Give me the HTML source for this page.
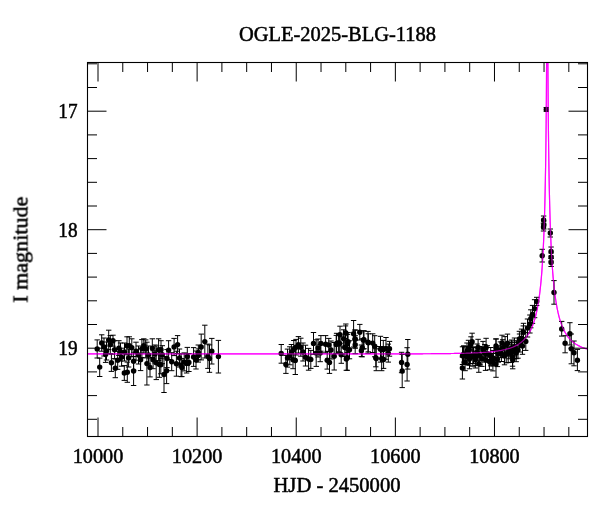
<!DOCTYPE html><html><head><meta charset="utf-8"><style>html,body{margin:0;padding:0;background:#fff;width:600px;height:512px;overflow:hidden}svg{display:block}</style></head><body>
<svg width="600" height="512" viewBox="0 0 600 512">
<rect width="600" height="512" fill="#fff"/>
<defs><clipPath id="c"><rect x="87.5" y="62.5" width="500" height="374"/></clipPath></defs>
<g clip-path="url(#c)"><polyline points="87.50,353.95 88.50,353.95 89.50,353.95 90.50,353.95 91.50,353.95 92.50,353.95 93.50,353.95 94.50,353.95 95.50,353.95 96.50,353.95 97.50,353.95 98.50,353.95 99.50,353.95 100.50,353.95 101.50,353.95 102.50,353.95 103.50,353.95 104.50,353.95 105.50,353.95 106.50,353.95 107.50,353.95 108.50,353.95 109.50,353.95 110.50,353.95 111.50,353.95 112.50,353.95 113.50,353.95 114.50,353.95 115.50,353.95 116.50,353.95 117.50,353.95 118.50,353.95 119.50,353.95 120.50,353.95 121.50,353.95 122.50,353.95 123.50,353.95 124.50,353.95 125.50,353.95 126.50,353.95 127.50,353.95 128.50,353.95 129.50,353.95 130.50,353.95 131.50,353.95 132.50,353.95 133.50,353.95 134.50,353.95 135.50,353.95 136.50,353.95 137.50,353.95 138.50,353.95 139.50,353.95 140.50,353.95 141.50,353.95 142.50,353.95 143.50,353.95 144.50,353.95 145.50,353.95 146.50,353.95 147.50,353.95 148.50,353.95 149.50,353.95 150.50,353.95 151.50,353.95 152.50,353.95 153.50,353.95 154.50,353.95 155.50,353.95 156.50,353.95 157.50,353.94 158.50,353.94 159.50,353.94 160.50,353.94 161.50,353.94 162.50,353.94 163.50,353.94 164.50,353.94 165.50,353.94 166.50,353.94 167.50,353.94 168.50,353.94 169.50,353.94 170.50,353.94 171.50,353.94 172.50,353.94 173.50,353.94 174.50,353.94 175.50,353.94 176.50,353.94 177.50,353.94 178.50,353.94 179.50,353.94 180.50,353.94 181.50,353.94 182.50,353.94 183.50,353.94 184.50,353.94 185.50,353.94 186.50,353.94 187.50,353.94 188.50,353.94 189.50,353.94 190.50,353.94 191.50,353.94 192.50,353.94 193.50,353.94 194.50,353.94 195.50,353.94 196.50,353.94 197.50,353.94 198.50,353.94 199.50,353.94 200.50,353.94 201.50,353.94 202.50,353.94 203.50,353.94 204.50,353.94 205.50,353.94 206.50,353.94 207.50,353.94 208.50,353.94 209.50,353.94 210.50,353.94 211.50,353.94 212.50,353.94 213.50,353.94 214.50,353.94 215.50,353.94 216.50,353.94 217.50,353.94 218.50,353.94 219.50,353.94 220.50,353.94 221.50,353.94 222.50,353.94 223.50,353.94 224.50,353.94 225.50,353.94 226.50,353.94 227.50,353.94 228.50,353.94 229.50,353.94 230.50,353.94 231.50,353.94 232.50,353.94 233.50,353.94 234.50,353.94 235.50,353.94 236.50,353.94 237.50,353.94 238.50,353.94 239.50,353.94 240.50,353.94 241.50,353.94 242.50,353.94 243.50,353.94 244.50,353.94 245.50,353.94 246.50,353.94 247.50,353.94 248.50,353.94 249.50,353.94 250.50,353.94 251.50,353.94 252.50,353.94 253.50,353.94 254.50,353.94 255.50,353.94 256.50,353.94 257.50,353.94 258.50,353.94 259.50,353.94 260.50,353.94 261.50,353.94 262.50,353.94 263.50,353.94 264.50,353.94 265.50,353.94 266.50,353.94 267.50,353.94 268.50,353.94 269.50,353.94 270.50,353.94 271.50,353.94 272.50,353.94 273.50,353.94 274.50,353.94 275.50,353.94 276.50,353.94 277.50,353.94 278.50,353.94 279.50,353.94 280.50,353.94 281.50,353.94 282.50,353.94 283.50,353.94 284.50,353.94 285.50,353.94 286.50,353.94 287.50,353.94 288.50,353.94 289.50,353.94 290.50,353.94 291.50,353.94 292.50,353.94 293.50,353.94 294.50,353.93 295.50,353.93 296.50,353.93 297.50,353.93 298.50,353.93 299.50,353.93 300.50,353.93 301.50,353.93 302.50,353.93 303.50,353.93 304.50,353.93 305.50,353.93 306.50,353.93 307.50,353.93 308.50,353.93 309.50,353.93 310.50,353.93 311.50,353.93 312.50,353.93 313.50,353.93 314.50,353.93 315.50,353.93 316.50,353.93 317.50,353.93 318.50,353.93 319.50,353.93 320.50,353.93 321.50,353.93 322.50,353.93 323.50,353.93 324.50,353.93 325.50,353.93 326.50,353.93 327.50,353.93 328.50,353.93 329.50,353.93 330.50,353.93 331.50,353.92 332.50,353.92 333.50,353.92 334.50,353.92 335.50,353.92 336.50,353.92 337.50,353.92 338.50,353.92 339.50,353.92 340.50,353.92 341.50,353.92 342.50,353.92 343.50,353.92 344.50,353.92 345.50,353.92 346.50,353.92 347.50,353.92 348.50,353.92 349.50,353.92 350.50,353.92 351.50,353.91 352.50,353.91 353.50,353.91 354.50,353.91 355.50,353.91 356.50,353.91 357.50,353.91 358.50,353.91 359.50,353.91 360.50,353.91 361.50,353.91 362.50,353.91 363.50,353.91 364.50,353.90 365.50,353.90 366.50,353.90 367.50,353.90 368.50,353.90 369.50,353.90 370.50,353.90 371.50,353.90 372.50,353.90 373.50,353.90 374.50,353.89 375.50,353.89 376.50,353.89 377.50,353.89 378.50,353.89 379.50,353.89 380.50,353.89 381.50,353.89 382.50,353.88 383.50,353.88 384.50,353.88 385.50,353.88 386.50,353.88 387.50,353.88 388.50,353.88 389.50,353.87 390.50,353.87 391.50,353.87 392.50,353.87 393.50,353.87 394.50,353.86 395.50,353.86 396.50,353.86 397.50,353.86 398.50,353.86 399.50,353.85 400.50,353.85 401.50,353.85 402.50,353.85 403.50,353.84 404.50,353.84 405.50,353.84 406.50,353.84 407.50,353.83 408.50,353.83 409.50,353.83 410.50,353.82 411.50,353.82 412.50,353.82 413.50,353.81 414.50,353.81 415.50,353.81 416.50,353.80 417.50,353.80 418.50,353.79 419.50,353.79 420.50,353.79 421.50,353.78 422.50,353.78 423.50,353.77 424.50,353.77 425.50,353.76 426.50,353.75 427.50,353.75 428.50,353.74 429.50,353.74 430.50,353.73 431.50,353.72 432.50,353.72 433.50,353.71 434.50,353.70 435.50,353.70 436.50,353.69 437.50,353.68 438.50,353.67 439.50,353.66 440.50,353.65 441.50,353.64 442.50,353.63 443.50,353.62 444.50,353.61 445.50,353.60 446.50,353.59 447.50,353.58 448.50,353.56 449.50,353.55 450.50,353.54 451.50,353.52 452.50,353.51 453.50,353.49 454.50,353.47 455.50,353.46 456.50,353.44 457.50,353.42 458.50,353.40 459.50,353.38 460.50,353.36 461.50,353.34 462.50,353.31 463.50,353.29 464.50,353.26 465.50,353.24 466.50,353.21 467.50,353.18 468.50,353.15 469.50,353.12 470.50,353.08 471.50,353.05 472.50,353.01 473.50,352.97 474.50,352.93 475.50,352.89 476.50,352.84 477.50,352.79 478.50,352.74 479.50,352.69 480.50,352.64 481.50,352.58 482.50,352.51 483.50,352.45 484.50,352.38 485.50,352.31 486.50,352.23 487.50,352.15 488.50,352.06 489.50,351.97 490.50,351.88 491.50,351.78 492.50,351.67 493.50,351.56 494.50,351.43 495.50,351.31 496.50,351.17 497.50,351.03 498.50,350.87 499.50,350.71 500.50,350.54 501.50,350.35 502.50,350.15 503.50,349.94 504.50,349.72 505.50,349.48 506.50,349.23 507.50,348.95 508.50,348.66 509.50,348.35 510.50,348.01 511.50,347.65 512.50,347.26 513.50,346.84 514.50,346.39 515.50,345.91 516.50,345.38 517.50,344.82 518.50,344.20 519.50,343.54 520.50,342.82 521.50,342.03 522.50,341.17 523.50,340.23 524.50,339.21 525.50,338.08 526.50,336.84 527.50,335.47 528.50,333.95 529.50,332.26 530.50,330.37 531.50,328.26 532.50,325.87 533.50,323.17 534.50,320.08 535.50,316.54 536.50,312.42 537.50,307.59 538.50,301.86 539.25,296.81 539.30,296.45 539.35,296.08 539.40,295.71 539.45,295.34 539.50,294.96 539.55,294.58 539.60,294.19 539.65,293.80 539.70,293.40 539.75,293.01 539.80,292.60 539.85,292.20 539.90,291.78 539.95,291.37 540.00,290.95 540.05,290.52 540.10,290.09 540.15,289.66 540.20,289.22 540.25,288.78 540.30,288.33 540.35,287.88 540.40,287.42 540.45,286.95 540.50,286.48 540.55,286.01 540.60,285.53 540.65,285.04 540.70,284.55 540.75,284.06 540.80,283.55 540.85,283.04 540.90,282.53 540.95,282.01 541.00,281.48 541.05,280.95 541.10,280.41 541.15,279.86 541.20,279.31 541.25,278.75 541.30,278.18 541.35,277.60 541.40,277.02 541.45,276.43 541.50,275.83 541.55,275.23 541.60,274.62 541.65,274.00 541.70,273.37 541.75,272.73 541.80,272.08 541.85,271.43 541.90,270.76 541.95,270.09 542.00,269.41 542.05,268.72 542.10,268.01 542.15,267.30 542.20,266.58 542.25,265.85 542.30,265.11 542.35,264.35 542.40,263.59 542.45,262.81 542.50,262.02 542.55,261.22 542.60,260.41 542.65,259.58 542.70,258.75 542.75,257.90 542.80,257.03 542.85,256.15 542.90,255.26 542.95,254.36 543.00,253.43 543.05,252.50 543.10,251.54 543.15,250.58 543.20,249.59 543.25,248.59 543.30,247.57 543.35,246.53 543.40,245.47 543.45,244.40 543.50,243.30 543.55,242.19 543.60,241.05 543.65,239.90 543.70,238.72 543.75,237.52 543.80,236.29 543.85,235.04 543.90,233.77 543.95,232.47 544.00,231.14 544.05,229.79 544.10,228.41 544.15,227.00 544.20,225.56 544.25,224.08 544.30,222.58 544.35,221.04 544.40,219.46 544.45,217.85 544.50,216.20 544.55,214.52 544.60,212.79 544.65,211.02 544.70,209.20 544.75,207.34 544.80,205.43 544.85,203.47 544.90,201.46 544.95,199.40 545.00,197.27 545.05,195.09 545.10,192.85 545.15,190.54 545.20,188.16 545.25,185.70 545.30,183.17 545.35,180.56 545.40,177.87 545.45,175.08 545.50,172.20 545.55,169.22 545.60,166.13 545.65,162.93 545.70,159.61 545.75,156.15 545.80,152.56 545.85,148.82 545.90,144.92 545.95,140.85 546.00,136.59 546.05,132.13 546.10,127.45 546.15,122.53 546.20,117.36 546.25,111.89 546.30,106.11 546.35,99.97 546.40,93.45 546.45,86.48 546.50,79.01 546.55,70.98 546.60,62.29 546.65,52.85 546.70,42.51 546.75,31.11 546.80,18.43 546.85,4.15 546.90,-12.15 546.95,-31.10 547.00,-53.66 547.05,-81.47 547.10,-117.58 547.15,-168.83 547.20,-257.10 547.25,-463.43 547.30,-257.10 547.35,-168.83 547.40,-117.58 547.45,-81.47 547.50,-53.66 547.55,-31.10 547.60,-12.15 547.65,4.15 547.70,18.43 547.75,31.11 547.80,42.51 547.85,52.85 547.90,62.29 547.95,70.98 548.00,79.01 548.05,86.48 548.10,93.45 548.15,99.97 548.20,106.11 548.25,111.89 548.30,117.36 548.35,122.53 548.40,127.45 548.45,132.13 548.50,136.59 548.55,140.85 548.60,144.92 548.65,148.82 548.70,152.56 548.75,156.15 548.80,159.61 548.85,162.93 548.90,166.13 548.95,169.22 549.00,172.20 549.05,175.08 549.10,177.87 549.15,180.56 549.20,183.17 549.25,185.70 549.30,188.16 549.35,190.54 549.40,192.85 549.45,195.09 549.50,197.27 549.55,199.40 549.60,201.46 549.65,203.47 549.70,205.43 549.75,207.34 549.80,209.20 549.85,211.02 549.90,212.79 549.95,214.52 550.00,216.20 550.05,217.85 550.10,219.46 550.15,221.04 550.20,222.58 550.25,224.08 550.30,225.56 550.35,227.00 550.40,228.41 550.45,229.79 550.50,231.14 550.55,232.47 550.60,233.77 550.65,235.04 550.70,236.29 550.75,237.52 550.80,238.72 550.85,239.90 550.90,241.05 550.95,242.19 551.00,243.30 551.05,244.40 551.10,245.47 551.15,246.53 551.20,247.57 551.25,248.59 551.30,249.59 551.35,250.58 551.40,251.54 551.45,252.50 551.50,253.43 551.55,254.36 551.60,255.26 551.65,256.15 551.70,257.03 551.75,257.90 551.80,258.75 551.85,259.58 551.90,260.41 551.95,261.22 552.00,262.02 552.05,262.81 552.10,263.59 552.15,264.35 552.20,265.11 552.25,265.85 552.30,266.58 552.35,267.30 552.40,268.01 552.45,268.72 552.50,269.41 552.55,270.09 552.60,270.76 552.65,271.43 552.70,272.08 552.75,272.73 552.80,273.37 552.85,274.00 552.90,274.62 552.95,275.23 553.00,275.83 553.05,276.43 553.10,277.02 553.15,277.60 553.20,278.18 553.25,278.75 553.30,279.31 553.35,279.86 553.40,280.41 553.45,280.95 553.50,281.48 553.55,282.01 553.60,282.53 553.65,283.04 553.70,283.55 553.75,284.06 553.80,284.55 553.85,285.04 553.90,285.53 553.95,286.01 554.00,286.48 554.05,286.95 554.10,287.42 554.15,287.88 554.20,288.33 554.25,288.78 554.30,289.22 554.35,289.66 554.40,290.09 554.45,290.52 554.50,290.95 554.55,291.37 554.60,291.78 554.65,292.20 554.70,292.60 554.75,293.01 554.80,293.40 554.85,293.80 554.90,294.19 554.95,294.58 555.00,294.96 555.05,295.34 555.10,295.71 555.15,296.08 555.20,296.45 555.25,296.81 556.00,301.86 557.00,307.59 558.00,312.42 559.00,316.54 560.00,320.08 561.00,323.17 562.00,325.87 563.00,328.26 564.00,330.37 565.00,332.26 566.00,333.95 567.00,335.47 568.00,336.84 569.00,338.08 570.00,339.21 571.00,340.23 572.00,341.17 573.00,342.03 574.00,342.82 575.00,343.54 576.00,344.20 577.00,344.82 578.00,345.38 579.00,345.91 580.00,346.39 581.00,346.84 582.00,347.26 583.00,347.65 584.00,348.01 585.00,348.35 586.00,348.66 587.00,348.95 588.00,349.23 589.00,349.48 590.00,349.72 591.00,349.94 592.00,350.15 593.00,350.35 594.00,350.54 595.00,350.71 596.00,350.87 597.00,351.03 598.00,351.17 599.00,351.31 600.00,351.43 601.00,351.56 602.00,351.67 603.00,351.78 604.00,351.88 605.00,351.97 606.00,352.06 607.00,352.15 608.00,352.23 609.00,352.31 610.00,352.38 611.00,352.45 612.00,352.51 613.00,352.58 614.00,352.64 615.00,352.69 616.00,352.74 617.00,352.79 618.00,352.84 619.00,352.89 620.00,352.93 621.00,352.97 622.00,353.01 623.00,353.05 624.00,353.08 625.00,353.12 626.00,353.15 627.00,353.18 628.00,353.21 629.00,353.24 630.00,353.26 631.00,353.29 632.00,353.31 633.00,353.34 634.00,353.36 635.00,353.38 636.00,353.40 637.00,353.42 638.00,353.44 639.00,353.46 640.00,353.47 641.00,353.49 642.00,353.51 643.00,353.52 644.00,353.54 645.00,353.55 646.00,353.56 647.00,353.58 648.00,353.59 649.00,353.60 650.00,353.61 651.00,353.62 652.00,353.63 653.00,353.64 654.00,353.65 655.00,353.66 656.00,353.67 657.00,353.68 658.00,353.69 659.00,353.70 660.00,353.70 661.00,353.71 662.00,353.72 663.00,353.72 664.00,353.73 665.00,353.74 666.00,353.74 667.00,353.75 668.00,353.75 669.00,353.76 670.00,353.77 671.00,353.77 672.00,353.78 673.00,353.78 674.00,353.79 675.00,353.79 676.00,353.79 677.00,353.80 678.00,353.80 679.00,353.81 680.00,353.81 681.00,353.81 682.00,353.82 683.00,353.82 684.00,353.82 685.00,353.83 686.00,353.83 687.00,353.83 688.00,353.84 689.00,353.84 690.00,353.84 691.00,353.84 692.00,353.85 693.00,353.85 694.00,353.85 695.00,353.85 696.00,353.86 697.00,353.86 698.00,353.86 699.00,353.86 700.00,353.86 701.00,353.87 702.00,353.87 703.00,353.87 704.00,353.87 705.00,353.87 706.00,353.88 707.00,353.88 708.00,353.88 709.00,353.88 710.00,353.88 711.00,353.88 712.00,353.88 713.00,353.89 714.00,353.89 715.00,353.89 716.00,353.89 717.00,353.89 718.00,353.89 719.00,353.89 720.00,353.89 721.00,353.90 722.00,353.90 723.00,353.90 724.00,353.90 725.00,353.90 726.00,353.90 727.00,353.90 728.00,353.90 729.00,353.90 730.00,353.90 731.00,353.91 732.00,353.91 733.00,353.91 734.00,353.91 735.00,353.91 736.00,353.91 737.00,353.91 738.00,353.91 739.00,353.91 740.00,353.91 741.00,353.91 742.00,353.91 743.00,353.91 744.00,353.92 745.00,353.92 746.00,353.92 747.00,353.92 748.00,353.92 749.00,353.92 750.00,353.92 751.00,353.92 752.00,353.92 753.00,353.92 754.00,353.92 755.00,353.92 756.00,353.92 757.00,353.92 758.00,353.92 759.00,353.92 760.00,353.92 761.00,353.92 762.00,353.92 763.00,353.92 764.00,353.93 765.00,353.93 766.00,353.93 767.00,353.93 768.00,353.93 769.00,353.93 770.00,353.93 771.00,353.93 772.00,353.93 773.00,353.93 774.00,353.93 775.00,353.93 776.00,353.93 777.00,353.93 778.00,353.93 779.00,353.93 780.00,353.93 781.00,353.93 782.00,353.93 783.00,353.93 784.00,353.93 785.00,353.93 786.00,353.93 787.00,353.93 788.00,353.93 789.00,353.93 790.00,353.93 791.00,353.93 792.00,353.93 793.00,353.93 794.00,353.93 795.00,353.93 796.00,353.93 797.00,353.93 798.00,353.93 799.00,353.93 800.00,353.93 801.00,353.94 802.00,353.94 803.00,353.94 804.00,353.94 805.00,353.94 806.00,353.94 807.00,353.94 808.00,353.94 809.00,353.94 810.00,353.94 811.00,353.94 812.00,353.94 813.00,353.94 814.00,353.94 815.00,353.94 816.00,353.94 817.00,353.94 818.00,353.94 819.00,353.94 820.00,353.94 821.00,353.94 822.00,353.94 823.00,353.94 824.00,353.94 825.00,353.94 826.00,353.94 827.00,353.94 828.00,353.94 829.00,353.94 830.00,353.94 831.00,353.94 832.00,353.94 833.00,353.94 834.00,353.94 835.00,353.94 836.00,353.94 837.00,353.94 838.00,353.94 839.00,353.94 840.00,353.94 841.00,353.94 842.00,353.94 843.00,353.94 844.00,353.94 845.00,353.94 846.00,353.94 847.00,353.94 848.00,353.94 849.00,353.94 850.00,353.94 851.00,353.94 852.00,353.94 853.00,353.94 854.00,353.94 855.00,353.94 856.00,353.94 857.00,353.94 858.00,353.94 859.00,353.94 860.00,353.94 861.00,353.94 862.00,353.94 863.00,353.94 864.00,353.94 865.00,353.94 866.00,353.94 867.00,353.94 868.00,353.94 869.00,353.94 870.00,353.94 871.00,353.94 872.00,353.94 873.00,353.94 874.00,353.94 875.00,353.94 876.00,353.94 877.00,353.94 878.00,353.94 879.00,353.94 880.00,353.94 881.00,353.94 882.00,353.94 883.00,353.94 884.00,353.94 885.00,353.94 886.00,353.94 887.00,353.94 888.00,353.94 889.00,353.94 890.00,353.94 891.00,353.94 892.00,353.94 893.00,353.94 894.00,353.94 895.00,353.94 896.00,353.94 897.00,353.94 898.00,353.94 899.00,353.94 900.00,353.94 901.00,353.94 902.00,353.94 903.00,353.94 904.00,353.94 905.00,353.94 906.00,353.94 907.00,353.94 908.00,353.94 909.00,353.94 910.00,353.94 911.00,353.94 912.00,353.94 913.00,353.94 914.00,353.94 915.00,353.94 916.00,353.94 917.00,353.94 918.00,353.94 919.00,353.94 920.00,353.94 921.00,353.94 922.00,353.94 923.00,353.94 924.00,353.94 925.00,353.94 926.00,353.94 927.00,353.94 928.00,353.94 929.00,353.94 930.00,353.94 931.00,353.94 932.00,353.94 933.00,353.94 934.00,353.94 935.00,353.94 936.00,353.94 937.00,353.94 938.00,353.95 939.00,353.95 940.00,353.95 941.00,353.95 942.00,353.95 943.00,353.95 944.00,353.95 945.00,353.95 946.00,353.95 947.00,353.95 948.00,353.95 949.00,353.95 950.00,353.95 951.00,353.95 952.00,353.95 953.00,353.95 954.00,353.95 955.00,353.95 956.00,353.95 957.00,353.95 958.00,353.95 959.00,353.95 960.00,353.95 961.00,353.95 962.00,353.95 963.00,353.95 964.00,353.95 965.00,353.95 966.00,353.95 967.00,353.95 968.00,353.95 969.00,353.95 970.00,353.95 971.00,353.95 972.00,353.95 973.00,353.95 974.00,353.95 975.00,353.95 976.00,353.95 977.00,353.95 978.00,353.95 979.00,353.95 980.00,353.95 981.00,353.95 982.00,353.95 983.00,353.95 984.00,353.95 985.00,353.95 986.00,353.95 987.00,353.95 988.00,353.95 989.00,353.95 990.00,353.95 991.00,353.95 992.00,353.95 993.00,353.95 994.00,353.95 995.00,353.95 996.00,353.95 997.00,353.95 998.00,353.95 999.00,353.95 1000.00,353.95 1001.00,353.95 1002.00,353.95 1003.00,353.95 1004.00,353.95 1005.00,353.95 1006.00,353.95 1007.00,353.95" fill="none" stroke="#ff00ff" stroke-width="1.2"/></g>
<g stroke="#000" stroke-width="1" fill="none"><path d="M97.2 339.9V358.0M94.5 339.9h5.4M94.5 358.0h5.4"/><path d="M99.7 358.1V376.5M97.0 358.1h5.4M97.0 376.5h5.4"/><path d="M101.7 334.8V351.2M99.0 334.8h5.4M99.0 351.2h5.4"/><path d="M104.0 338.0V356.0M101.3 338.0h5.4M101.3 356.0h5.4"/><path d="M105.6 346.0V362.4M102.9 346.0h5.4M102.9 362.4h5.4"/><path d="M108.7 330.2V349.6M106.0 330.2h5.4M106.0 349.6h5.4"/><path d="M110.3 335.6V353.6M107.6 335.6h5.4M107.6 353.6h5.4"/><path d="M113.0 335.2V346.2M110.3 335.2h5.4M110.3 346.2h5.4"/><path d="M111.4 354.2V371.4M108.7 354.2h5.4M108.7 371.4h5.4"/><path d="M114.6 340.7V358.7M111.9 340.7h5.4M111.9 358.7h5.4"/><path d="M115.3 358.9V377.7M112.6 358.9h5.4M112.6 377.7h5.4"/><path d="M118.9 340.7V355.5M116.2 340.7h5.4M116.2 355.5h5.4"/><path d="M117.7 351.3V369.3M115.0 351.3h5.4M115.0 369.3h5.4"/><path d="M121.6 348.2V366.2M118.9 348.2h5.4M118.9 366.2h5.4"/><path d="M124.3 365.6V380.4M121.6 365.6h5.4M121.6 380.4h5.4"/><path d="M127.0 336.8V354.8M124.3 336.8h5.4M124.3 354.8h5.4"/><path d="M127.3 362.1V382.3M124.6 362.1h5.4M124.6 382.3h5.4"/><path d="M129.3 336.8V354.8M126.6 336.8h5.4M126.6 354.8h5.4"/><path d="M128.6 349.0V367.0M125.9 349.0h5.4M125.9 367.0h5.4"/><path d="M131.8 338.8V356.8M129.1 338.8h5.4M129.1 356.8h5.4"/><path d="M133.6 352.2V370.2M130.9 352.2h5.4M130.9 370.2h5.4"/><path d="M133.6 356.5V385.5M130.9 356.5h5.4M130.9 385.5h5.4"/><path d="M136.0 342.2V360.2M133.3 342.2h5.4M133.3 360.2h5.4"/><path d="M140.6 348.8V370.6M137.9 348.8h5.4M137.9 370.6h5.4"/><path d="M141.9 339.6V357.6M139.2 339.6h5.4M139.2 357.6h5.4"/><path d="M143.8 338.8V352.9M141.1 338.8h5.4M141.1 352.9h5.4"/><path d="M145.7 339.9V357.9M143.0 339.9h5.4M143.0 357.9h5.4"/><path d="M146.9 342.2V385.0M144.2 342.2h5.4M144.2 385.0h5.4"/><path d="M150.0 358.1V376.9M147.3 358.1h5.4M147.3 376.9h5.4"/><path d="M152.3 338.8V357.5M149.6 338.8h5.4M149.6 357.5h5.4"/><path d="M153.1 350.7V368.7M150.4 350.7h5.4M150.4 368.7h5.4"/><path d="M156.2 346.0V379.6M153.6 346.0h5.4M153.6 379.6h5.4"/><path d="M158.6 338.8V360.6M155.9 338.8h5.4M155.9 360.6h5.4"/><path d="M159.4 351.5V377.3M156.7 351.5h5.4M156.7 377.3h5.4"/><path d="M161.0 340.7V358.7M158.3 340.7h5.4M158.3 358.7h5.4"/><path d="M164.0 356.5V392.5M161.3 356.5h5.4M161.3 392.5h5.4"/><path d="M168.6 340.7V359.5M165.9 340.7h5.4M165.9 359.5h5.4"/><path d="M160.8 355.8V373.8M158.1 355.8h5.4M158.1 373.8h5.4"/><path d="M162.3 345.7V363.7M159.6 345.7h5.4M159.6 363.7h5.4"/><path d="M166.6 357.8V383.6M163.9 357.8h5.4M163.9 383.6h5.4"/><path d="M167.0 349.6V367.6M164.3 349.6h5.4M164.3 367.6h5.4"/><path d="M171.7 352.7V370.7M169.0 352.7h5.4M169.0 370.7h5.4"/><path d="M174.1 338.4V355.6M171.4 338.4h5.4M171.4 355.6h5.4"/><path d="M177.6 335.6V353.6M174.9 335.6h5.4M174.9 353.6h5.4"/><path d="M176.4 351.2V376.2M173.7 351.2h5.4M173.7 376.2h5.4"/><path d="M181.1 353.8V376.6M178.4 353.8h5.4M178.4 376.6h5.4"/><path d="M181.9 358.6V376.6M179.2 358.6h5.4M179.2 376.6h5.4"/><path d="M184.2 352.9V370.9M181.5 352.9h5.4M181.5 370.9h5.4"/><path d="M186.6 353.6V373.0M183.9 353.6h5.4M183.9 373.0h5.4"/><path d="M188.9 353.5V371.5M186.2 353.5h5.4M186.2 371.5h5.4"/><path d="M187.3 347.4V365.4M184.6 347.4h5.4M184.6 365.4h5.4"/><path d="M193.6 347.6V366.4M190.9 347.6h5.4M190.9 366.4h5.4"/><path d="M198.3 345.0V359.8M195.6 345.0h5.4M195.6 359.8h5.4"/><path d="M198.3 348.9V362.1M195.6 348.9h5.4M195.6 362.1h5.4"/><path d="M201.2 334.1V359.9M198.6 334.1h5.4M198.6 359.9h5.4"/><path d="M204.8 325.2V358.0M202.1 325.2h5.4M202.1 358.0h5.4"/><path d="M207.9 344.1V368.4M205.2 344.1h5.4M205.2 368.4h5.4"/><path d="M209.5 344.9V372.3M206.8 344.9h5.4M206.8 372.3h5.4"/><path d="M211.8 338.4V364.0M209.1 338.4h5.4M209.1 364.0h5.4"/><path d="M218.4 340.4V373.0M215.7 340.4h5.4M215.7 373.0h5.4"/><path d="M120.5 343.0V361.0M117.8 343.0h5.4M117.8 361.0h5.4"/><path d="M138.5 346.0V364.0M135.8 346.0h5.4M135.8 364.0h5.4"/><path d="M148.5 346.0V364.0M145.8 346.0h5.4M145.8 364.0h5.4"/><path d="M155.0 345.0V363.0M152.3 345.0h5.4M152.3 363.0h5.4"/><path d="M179.5 349.0V367.0M176.8 349.0h5.4M176.8 367.0h5.4"/><path d="M196.0 351.0V369.0M193.3 351.0h5.4M193.3 369.0h5.4"/><path d="M106.5 342.0V360.0M103.8 342.0h5.4M103.8 360.0h5.4"/><path d="M124.5 343.0V361.0M121.8 343.0h5.4M121.8 361.0h5.4"/><path d="M281.2 344.5V363.2M278.6 344.5h5.4M278.6 363.2h5.4"/><path d="M285.9 355.4V373.4M283.2 355.4h5.4M283.2 373.4h5.4"/><path d="M287.5 349.1V367.1M284.8 349.1h5.4M284.8 367.1h5.4"/><path d="M289.8 346.8V364.8M287.1 346.8h5.4M287.1 364.8h5.4"/><path d="M291.4 344.5V359.3M288.7 344.5h5.4M288.7 359.3h5.4"/><path d="M293.8 340.5V358.5M291.1 340.5h5.4M291.1 358.5h5.4"/><path d="M293.0 350.7V368.7M290.3 350.7h5.4M290.3 368.7h5.4"/><path d="M295.3 346.5V374.5M292.6 346.5h5.4M292.6 374.5h5.4"/><path d="M298.4 336.6V353.0M295.7 336.6h5.4M295.7 353.0h5.4"/><path d="M300.8 338.2V356.2M298.1 338.2h5.4M298.1 356.2h5.4"/><path d="M296.0 339.4V355.0M293.3 339.4h5.4M293.3 355.0h5.4"/><path d="M305.5 345.2V366.0M302.8 345.2h5.4M302.8 366.0h5.4"/><path d="M308.6 348.4V370.2M305.9 348.4h5.4M305.9 370.2h5.4"/><path d="M313.5 332.5V354.3M310.8 332.5h5.4M310.8 354.3h5.4"/><path d="M316.2 339.8V366.4M313.6 339.8h5.4M313.6 366.4h5.4"/><path d="M320.9 335.6V351.2M318.2 335.6h5.4M318.2 351.2h5.4"/><path d="M320.2 344.5V361.7M317.5 344.5h5.4M317.5 361.7h5.4"/><path d="M325.6 335.6V352.8M322.9 335.6h5.4M322.9 352.8h5.4"/><path d="M328.8 338.4V351.6M326.1 338.4h5.4M326.1 351.6h5.4"/><path d="M327.2 351.3V369.1M324.5 351.3h5.4M324.5 369.1h5.4"/><path d="M329.5 351.6V373.4M326.8 351.6h5.4M326.8 373.4h5.4"/><path d="M334.2 342.5V370.0M331.5 342.5h5.4M331.5 370.0h5.4"/><path d="M336.6 333.3V353.5M333.9 333.3h5.4M333.9 353.5h5.4"/><path d="M339.7 334.4V352.4M337.0 334.4h5.4M337.0 352.4h5.4"/><path d="M340.0 326.2V343.4M337.3 326.2h5.4M337.3 343.4h5.4"/><path d="M345.5 325.9V339.9M342.8 325.9h5.4M342.8 339.9h5.4"/><path d="M343.6 329.8V347.8M340.9 329.8h5.4M340.9 347.8h5.4"/><path d="M347.5 334.4V352.4M344.8 334.4h5.4M344.8 352.4h5.4"/><path d="M341.2 346.1V363.3M338.6 346.1h5.4M338.6 363.3h5.4"/><path d="M346.3 347.7V370.3M343.6 347.7h5.4M343.6 370.3h5.4"/><path d="M310.8 350.4V368.4M308.1 350.4h5.4M308.1 368.4h5.4"/><path d="M345.8 324.0V342.0M343.1 324.0h5.4M343.1 342.0h5.4"/><path d="M353.6 320.5V347.0M350.9 320.5h5.4M350.9 347.0h5.4"/><path d="M359.8 324.4V340.0M357.1 324.4h5.4M357.1 340.0h5.4"/><path d="M355.2 330.2V348.2M352.5 330.2h5.4M352.5 348.2h5.4"/><path d="M348.1 332.6V350.6M345.4 332.6h5.4M345.4 350.6h5.4"/><path d="M355.2 335.7V353.7M352.5 335.7h5.4M352.5 353.7h5.4"/><path d="M363.4 331.0V349.0M360.7 331.0h5.4M360.7 349.0h5.4"/><path d="M362.2 338.8V356.8M359.5 338.8h5.4M359.5 356.8h5.4"/><path d="M368.0 331.4V353.2M365.3 331.4h5.4M365.3 353.2h5.4"/><path d="M372.7 333.8V352.5M370.0 333.8h5.4M370.0 352.5h5.4"/><path d="M374.7 335.7V356.8M372.0 335.7h5.4M372.0 356.8h5.4"/><path d="M380.5 336.3V362.1M377.8 336.3h5.4M377.8 362.1h5.4"/><path d="M383.3 340.4V358.4M380.6 340.4h5.4M380.6 358.4h5.4"/><path d="M347.3 345.3V370.3M344.6 345.3h5.4M344.6 370.3h5.4"/><path d="M376.2 346.5V370.7M373.6 346.5h5.4M373.6 370.7h5.4"/><path d="M361.4 345.0V356.6M358.7 345.0h5.4M358.7 356.6h5.4"/><path d="M381.7 346.5V370.7M379.0 346.5h5.4M379.0 370.7h5.4"/><path d="M386.0 337.5V359.3M383.3 337.5h5.4M383.3 359.3h5.4"/><path d="M389.5 341.4V356.2M386.8 341.4h5.4M386.8 356.2h5.4"/><path d="M388.3 344.1V362.1M385.6 344.1h5.4M385.6 362.1h5.4"/><path d="M375.8 348.8V366.8M373.1 348.8h5.4M373.1 366.8h5.4"/><path d="M383.6 350.4V368.4M380.9 350.4h5.4M380.9 368.4h5.4"/><path d="M336.2 335.4V353.4M333.6 335.4h5.4M333.6 353.4h5.4"/><path d="M338.6 333.8V351.8M335.9 333.8h5.4M335.9 351.8h5.4"/><path d="M344.8 338.5V356.5M342.1 338.5h5.4M342.1 356.5h5.4"/><path d="M349.5 340.8V358.8M346.8 340.8h5.4M346.8 358.8h5.4"/><path d="M355.0 329.9V347.9M352.3 329.9h5.4M352.3 347.9h5.4"/><path d="M364.0 330.7V348.7M361.3 330.7h5.4M361.3 348.7h5.4"/><path d="M368.3 333.8V351.8M365.6 333.8h5.4M365.6 351.8h5.4"/><path d="M303.0 343.0V361.0M300.3 343.0h5.4M300.3 361.0h5.4"/><path d="M318.0 339.0V357.0M315.3 339.0h5.4M315.3 357.0h5.4"/><path d="M331.0 341.0V359.0M328.3 341.0h5.4M328.3 359.0h5.4"/><path d="M401.6 352.3V372.7M398.9 352.3h5.4M398.9 372.7h5.4"/><path d="M402.2 354.4V387.6M399.5 354.4h5.4M399.5 387.6h5.4"/><path d="M407.8 339.5V369.1M405.1 339.5h5.4M405.1 369.1h5.4"/><path d="M407.1 347.7V381.0M404.4 347.7h5.4M404.4 381.0h5.4"/><path d="M462.5 346.8V364.5M459.8 346.8h5.4M459.8 364.5h5.4"/><path d="M465.1 354.0V370.7M462.4 354.0h5.4M462.4 370.7h5.4"/><path d="M466.1 347.9V364.4M463.4 347.9h5.4M463.4 364.4h5.4"/><path d="M467.9 346.6V364.6M465.2 346.6h5.4M465.2 364.6h5.4"/><path d="M469.0 346.8V365.3M466.3 346.8h5.4M466.3 365.3h5.4"/><path d="M470.4 347.2V363.5M467.7 347.2h5.4M467.7 363.5h5.4"/><path d="M472.8 347.4V366.2M470.1 347.4h5.4M470.1 366.2h5.4"/><path d="M473.5 346.9V363.6M470.8 346.9h5.4M470.8 363.6h5.4"/><path d="M475.9 347.8V365.6M473.2 347.8h5.4M473.2 365.6h5.4"/><path d="M477.1 344.0V360.3M474.4 344.0h5.4M474.4 360.3h5.4"/><path d="M478.1 339.3V355.7M475.4 339.3h5.4M475.4 355.7h5.4"/><path d="M479.8 346.5V364.7M477.1 346.5h5.4M477.1 364.7h5.4"/><path d="M481.9 351.1V366.4M479.2 351.1h5.4M479.2 366.4h5.4"/><path d="M483.0 341.4V357.1M480.3 341.4h5.4M480.3 357.1h5.4"/><path d="M484.8 344.5V362.1M482.1 344.5h5.4M482.1 362.1h5.4"/><path d="M486.1 338.3V356.8M483.4 338.3h5.4M483.4 356.8h5.4"/><path d="M487.3 345.7V361.9M484.6 345.7h5.4M484.6 361.9h5.4"/><path d="M489.4 353.2V369.8M486.7 353.2h5.4M486.7 369.8h5.4"/><path d="M490.7 347.5V365.0M488.0 347.5h5.4M488.0 365.0h5.4"/><path d="M492.9 353.5V370.9M490.2 353.5h5.4M490.2 370.9h5.4"/><path d="M493.4 350.6V365.8M490.7 350.6h5.4M490.7 365.8h5.4"/><path d="M496.0 339.1V357.8M493.3 339.1h5.4M493.3 357.8h5.4"/><path d="M497.4 351.9V366.6M494.7 351.9h5.4M494.7 366.6h5.4"/><path d="M498.3 345.9V362.2M495.6 345.9h5.4M495.6 362.2h5.4"/><path d="M500.4 341.9V357.7M497.7 341.9h5.4M497.7 357.7h5.4"/><path d="M501.4 346.0V361.5M498.7 346.0h5.4M498.7 361.5h5.4"/><path d="M502.8 339.7V357.5M500.1 339.7h5.4M500.1 357.5h5.4"/><path d="M505.1 336.6V353.2M502.4 336.6h5.4M502.4 353.2h5.4"/><path d="M506.2 345.5V362.8M503.5 345.5h5.4M503.5 362.8h5.4"/><path d="M508.2 343.9V362.6M505.5 343.9h5.4M505.5 362.6h5.4"/><path d="M508.8 342.5V358.8M506.1 342.5h5.4M506.1 358.8h5.4"/><path d="M511.3 344.8V362.4M508.6 344.8h5.4M508.6 362.4h5.4"/><path d="M512.0 341.0V356.8M509.3 341.0h5.4M509.3 356.8h5.4"/><path d="M514.4 342.6V358.8M511.7 342.6h5.4M511.7 358.8h5.4"/><path d="M462.4 357.0V379.0M459.7 357.0h5.4M459.7 379.0h5.4"/><path d="M463.6 346.2V364.2M460.9 346.2h5.4M460.9 364.2h5.4"/><path d="M469.5 349.2V368.8M466.8 349.2h5.4M466.8 368.8h5.4"/><path d="M475.3 351.6V368.0M472.6 351.6h5.4M472.6 368.0h5.4"/><path d="M478.8 355.2V372.3M476.1 355.2h5.4M476.1 372.3h5.4"/><path d="M485.5 349.2V370.4M482.8 349.2h5.4M482.8 370.4h5.4"/><path d="M491.0 356.8V366.0M488.3 356.8h5.4M488.3 366.0h5.4"/><path d="M496.0 350.7V377.3M493.3 350.7h5.4M493.3 377.3h5.4"/><path d="M472.1 333.2V350.2M469.4 333.2h5.4M469.4 350.2h5.4"/><path d="M471.0 336.8V351.2M468.3 336.8h5.4M468.3 351.2h5.4"/><path d="M468.5 340.3V355.7M465.8 340.3h5.4M465.8 355.7h5.4"/><path d="M467.0 343.0V359.0M464.3 343.0h5.4M464.3 359.0h5.4"/><path d="M463.8 345.9V362.1M461.1 345.9h5.4M461.1 362.1h5.4"/><path d="M502.0 335.2V350.8M499.3 335.2h5.4M499.3 350.8h5.4"/><path d="M496.0 338.8V353.2M493.3 338.8h5.4M493.3 353.2h5.4"/><path d="M519.4 331.3V346.7M516.7 331.3h5.4M516.7 346.7h5.4"/><path d="M523.3 325.9V338.1M520.6 325.9h5.4M520.6 338.1h5.4"/><path d="M511.5 340.0V356.0M508.8 340.0h5.4M508.8 356.0h5.4"/><path d="M504.5 347.2V364.8M501.8 347.2h5.4M501.8 364.8h5.4"/><path d="M512.7 351.2V368.8M510.0 351.2h5.4M510.0 368.8h5.4"/><path d="M516.2 344.3V361.7M513.5 344.3h5.4M513.5 361.7h5.4"/><path d="M518.0 341.8V358.2M515.3 341.8h5.4M515.3 358.2h5.4"/><path d="M522.5 337.7V354.3M519.8 337.7h5.4M519.8 354.3h5.4"/><path d="M507.5 334.1V352.1M504.8 334.1h5.4M504.8 352.1h5.4"/><path d="M516.6 340.7V358.7M513.9 340.7h5.4M513.9 358.7h5.4"/><path d="M512.5 348.2V366.2M509.8 348.2h5.4M509.8 366.2h5.4"/><path d="M521.6 329.1V347.1M518.9 329.1h5.4M518.9 347.1h5.4"/><path d="M525.8 332.4V350.4M523.0 332.4h5.4M523.0 350.4h5.4"/><path d="M523.5 323.3V341.3M520.8 323.3h5.4M520.8 341.3h5.4"/><path d="M530.8 309.8V327.8M528.1 309.8h5.4M528.1 327.8h5.4"/><path d="M534.6 299.7V317.7M531.9 299.7h5.4M531.9 317.7h5.4"/><path d="M536.7 297.3V305.5M534.0 297.3h5.4M534.0 305.5h5.4"/><path d="M532.5 305.4V323.4M529.8 305.4h5.4M529.8 323.4h5.4"/><path d="M529.9 315.0V333.0M527.2 315.0h5.4M527.2 333.0h5.4"/><path d="M527.5 319.0V337.0M524.8 319.0h5.4M524.8 337.0h5.4"/><path d="M519.5 334.0V352.0M516.8 334.0h5.4M516.8 352.0h5.4"/><path d="M514.5 338.0V356.0M511.8 338.0h5.4M511.8 356.0h5.4"/><path d="M546.3 107.5V111.3M543.6 107.5h5.4M543.6 111.3h5.4"/><path d="M543.6 216.0V224.0M540.9 216.0h5.4M540.9 224.0h5.4"/><path d="M543.8 221.0V229.0M541.1 221.0h5.4M541.1 229.0h5.4"/><path d="M543.5 223.0V231.0M540.8 223.0h5.4M540.8 231.0h5.4"/><path d="M550.3 229.0V237.0M547.6 229.0h5.4M547.6 237.0h5.4"/><path d="M542.2 249.3V262.0M539.5 249.3h5.4M539.5 262.0h5.4"/><path d="M551.1 247.0V256.0M548.4 247.0h5.4M548.4 256.0h5.4"/><path d="M551.1 253.0V261.0M548.4 253.0h5.4M548.4 261.0h5.4"/><path d="M551.1 258.5V266.5M548.4 258.5h5.4M548.4 266.5h5.4"/><path d="M554.0 280.6V304.2M551.3 280.6h5.4M551.3 304.2h5.4"/><path d="M561.7 321.4V336.1M559.0 321.4h5.4M559.0 336.1h5.4"/><path d="M569.9 322.7V345.0M567.2 322.7h5.4M567.2 345.0h5.4"/><path d="M565.1 335.7V352.8M562.4 335.7h5.4M562.4 352.8h5.4"/><path d="M571.3 334.0V363.8M568.6 334.0h5.4M568.6 363.8h5.4"/><path d="M574.0 341.0V365.8M571.3 341.0h5.4M571.3 365.8h5.4"/><path d="M577.4 349.4V370.6M574.7 349.4h5.4M574.7 370.6h5.4"/></g>
<g fill="#000"><circle cx="97.2" cy="348.9" r="2.7"/><circle cx="99.7" cy="367.1" r="2.7"/><circle cx="101.7" cy="343.0" r="2.7"/><circle cx="104.0" cy="347.0" r="2.7"/><circle cx="105.6" cy="354.4" r="2.7"/><circle cx="108.7" cy="339.9" r="2.7"/><circle cx="110.3" cy="344.6" r="2.7"/><circle cx="113.0" cy="340.7" r="2.7"/><circle cx="111.4" cy="362.8" r="2.7"/><circle cx="114.6" cy="349.7" r="2.7"/><circle cx="115.3" cy="368.3" r="2.7"/><circle cx="118.9" cy="348.1" r="2.7"/><circle cx="117.7" cy="360.3" r="2.7"/><circle cx="121.6" cy="357.2" r="2.7"/><circle cx="124.3" cy="373.0" r="2.7"/><circle cx="127.0" cy="345.8" r="2.7"/><circle cx="127.3" cy="372.2" r="2.7"/><circle cx="129.3" cy="345.8" r="2.7"/><circle cx="128.6" cy="358.0" r="2.7"/><circle cx="131.8" cy="347.8" r="2.7"/><circle cx="133.6" cy="361.2" r="2.7"/><circle cx="133.6" cy="371.0" r="2.7"/><circle cx="136.0" cy="351.2" r="2.7"/><circle cx="140.6" cy="359.7" r="2.7"/><circle cx="141.9" cy="348.6" r="2.7"/><circle cx="143.8" cy="345.8" r="2.7"/><circle cx="145.7" cy="348.9" r="2.7"/><circle cx="146.9" cy="363.6" r="2.7"/><circle cx="150.0" cy="367.5" r="2.7"/><circle cx="152.3" cy="348.1" r="2.7"/><circle cx="153.1" cy="359.7" r="2.7"/><circle cx="156.2" cy="362.8" r="2.7"/><circle cx="158.6" cy="349.7" r="2.7"/><circle cx="159.4" cy="364.4" r="2.7"/><circle cx="161.0" cy="349.7" r="2.7"/><circle cx="164.0" cy="374.5" r="2.7"/><circle cx="168.6" cy="350.1" r="2.7"/><circle cx="160.8" cy="364.8" r="2.7"/><circle cx="162.3" cy="354.7" r="2.7"/><circle cx="166.6" cy="370.7" r="2.7"/><circle cx="167.0" cy="358.6" r="2.7"/><circle cx="171.7" cy="361.7" r="2.7"/><circle cx="174.1" cy="347.0" r="2.7"/><circle cx="177.6" cy="344.6" r="2.7"/><circle cx="176.4" cy="363.7" r="2.7"/><circle cx="181.1" cy="365.2" r="2.7"/><circle cx="181.9" cy="367.6" r="2.7"/><circle cx="184.2" cy="361.9" r="2.7"/><circle cx="186.6" cy="363.3" r="2.7"/><circle cx="188.9" cy="362.5" r="2.7"/><circle cx="187.3" cy="356.4" r="2.7"/><circle cx="193.6" cy="357.0" r="2.7"/><circle cx="198.3" cy="352.4" r="2.7"/><circle cx="198.3" cy="355.5" r="2.7"/><circle cx="201.2" cy="347.0" r="2.7"/><circle cx="204.8" cy="341.6" r="2.7"/><circle cx="207.9" cy="356.2" r="2.7"/><circle cx="209.5" cy="358.6" r="2.7"/><circle cx="211.8" cy="351.2" r="2.7"/><circle cx="218.4" cy="356.6" r="2.7"/><circle cx="120.5" cy="352.0" r="2.7"/><circle cx="138.5" cy="355.0" r="2.7"/><circle cx="148.5" cy="355.0" r="2.7"/><circle cx="155.0" cy="354.0" r="2.7"/><circle cx="179.5" cy="358.0" r="2.7"/><circle cx="196.0" cy="360.0" r="2.7"/><circle cx="106.5" cy="351.0" r="2.7"/><circle cx="124.5" cy="352.0" r="2.7"/><circle cx="281.2" cy="353.4" r="2.7"/><circle cx="285.9" cy="364.4" r="2.7"/><circle cx="287.5" cy="358.1" r="2.7"/><circle cx="289.8" cy="355.8" r="2.7"/><circle cx="291.4" cy="351.9" r="2.7"/><circle cx="293.8" cy="349.5" r="2.7"/><circle cx="293.0" cy="359.7" r="2.7"/><circle cx="295.3" cy="360.5" r="2.7"/><circle cx="298.4" cy="344.8" r="2.7"/><circle cx="300.8" cy="347.2" r="2.7"/><circle cx="296.0" cy="347.2" r="2.7"/><circle cx="305.5" cy="357.3" r="2.7"/><circle cx="308.6" cy="358.9" r="2.7"/><circle cx="313.5" cy="343.4" r="2.7"/><circle cx="316.2" cy="353.1" r="2.7"/><circle cx="320.9" cy="343.4" r="2.7"/><circle cx="320.2" cy="353.1" r="2.7"/><circle cx="325.6" cy="344.2" r="2.7"/><circle cx="328.8" cy="345.0" r="2.7"/><circle cx="327.2" cy="360.2" r="2.7"/><circle cx="329.5" cy="362.5" r="2.7"/><circle cx="334.2" cy="356.2" r="2.7"/><circle cx="336.6" cy="343.4" r="2.7"/><circle cx="339.7" cy="343.4" r="2.7"/><circle cx="340.0" cy="334.8" r="2.7"/><circle cx="345.5" cy="332.9" r="2.7"/><circle cx="343.6" cy="338.8" r="2.7"/><circle cx="347.5" cy="343.4" r="2.7"/><circle cx="341.2" cy="354.7" r="2.7"/><circle cx="346.3" cy="359.0" r="2.7"/><circle cx="310.8" cy="359.4" r="2.7"/><circle cx="345.8" cy="333.0" r="2.7"/><circle cx="353.6" cy="333.8" r="2.7"/><circle cx="359.8" cy="332.2" r="2.7"/><circle cx="355.2" cy="339.2" r="2.7"/><circle cx="348.1" cy="341.6" r="2.7"/><circle cx="355.2" cy="344.7" r="2.7"/><circle cx="363.4" cy="340.0" r="2.7"/><circle cx="362.2" cy="347.8" r="2.7"/><circle cx="368.0" cy="342.3" r="2.7"/><circle cx="372.7" cy="343.1" r="2.7"/><circle cx="374.7" cy="346.2" r="2.7"/><circle cx="380.5" cy="349.2" r="2.7"/><circle cx="383.3" cy="349.4" r="2.7"/><circle cx="347.3" cy="357.8" r="2.7"/><circle cx="376.2" cy="358.6" r="2.7"/><circle cx="361.4" cy="350.8" r="2.7"/><circle cx="381.7" cy="358.6" r="2.7"/><circle cx="386.0" cy="348.4" r="2.7"/><circle cx="389.5" cy="348.8" r="2.7"/><circle cx="388.3" cy="353.1" r="2.7"/><circle cx="375.8" cy="357.8" r="2.7"/><circle cx="383.6" cy="359.4" r="2.7"/><circle cx="336.2" cy="344.4" r="2.7"/><circle cx="338.6" cy="342.8" r="2.7"/><circle cx="344.8" cy="347.5" r="2.7"/><circle cx="349.5" cy="349.8" r="2.7"/><circle cx="355.0" cy="338.9" r="2.7"/><circle cx="364.0" cy="339.7" r="2.7"/><circle cx="368.3" cy="342.8" r="2.7"/><circle cx="303.0" cy="352.0" r="2.7"/><circle cx="318.0" cy="348.0" r="2.7"/><circle cx="331.0" cy="350.0" r="2.7"/><circle cx="401.6" cy="362.5" r="2.7"/><circle cx="402.2" cy="371.0" r="2.7"/><circle cx="407.8" cy="354.3" r="2.7"/><circle cx="407.1" cy="364.4" r="2.7"/><circle cx="462.5" cy="355.7" r="2.7"/><circle cx="465.1" cy="362.3" r="2.7"/><circle cx="466.1" cy="356.2" r="2.7"/><circle cx="467.9" cy="355.6" r="2.7"/><circle cx="469.0" cy="356.1" r="2.7"/><circle cx="470.4" cy="355.4" r="2.7"/><circle cx="472.8" cy="356.8" r="2.7"/><circle cx="473.5" cy="355.3" r="2.7"/><circle cx="475.9" cy="356.7" r="2.7"/><circle cx="477.1" cy="352.2" r="2.7"/><circle cx="478.1" cy="347.5" r="2.7"/><circle cx="479.8" cy="355.6" r="2.7"/><circle cx="481.9" cy="358.8" r="2.7"/><circle cx="483.0" cy="349.2" r="2.7"/><circle cx="484.8" cy="353.3" r="2.7"/><circle cx="486.1" cy="347.5" r="2.7"/><circle cx="487.3" cy="353.8" r="2.7"/><circle cx="489.4" cy="361.5" r="2.7"/><circle cx="490.7" cy="356.2" r="2.7"/><circle cx="492.9" cy="362.2" r="2.7"/><circle cx="493.4" cy="358.2" r="2.7"/><circle cx="496.0" cy="348.4" r="2.7"/><circle cx="497.4" cy="359.2" r="2.7"/><circle cx="498.3" cy="354.1" r="2.7"/><circle cx="500.4" cy="349.8" r="2.7"/><circle cx="501.4" cy="353.7" r="2.7"/><circle cx="502.8" cy="348.6" r="2.7"/><circle cx="505.1" cy="344.9" r="2.7"/><circle cx="506.2" cy="354.2" r="2.7"/><circle cx="508.2" cy="353.2" r="2.7"/><circle cx="508.8" cy="350.7" r="2.7"/><circle cx="511.3" cy="353.6" r="2.7"/><circle cx="512.0" cy="348.9" r="2.7"/><circle cx="514.4" cy="350.7" r="2.7"/><circle cx="462.4" cy="368.0" r="2.7"/><circle cx="463.6" cy="355.2" r="2.7"/><circle cx="469.5" cy="359.0" r="2.7"/><circle cx="475.3" cy="359.8" r="2.7"/><circle cx="478.8" cy="363.8" r="2.7"/><circle cx="485.5" cy="359.8" r="2.7"/><circle cx="491.0" cy="361.4" r="2.7"/><circle cx="496.0" cy="364.0" r="2.7"/><circle cx="472.1" cy="341.7" r="2.7"/><circle cx="471.0" cy="344.0" r="2.7"/><circle cx="468.5" cy="348.0" r="2.7"/><circle cx="467.0" cy="351.0" r="2.7"/><circle cx="463.8" cy="354.0" r="2.7"/><circle cx="502.0" cy="343.0" r="2.7"/><circle cx="496.0" cy="346.0" r="2.7"/><circle cx="519.4" cy="339.0" r="2.7"/><circle cx="523.3" cy="332.0" r="2.7"/><circle cx="511.5" cy="348.0" r="2.7"/><circle cx="504.5" cy="356.0" r="2.7"/><circle cx="512.7" cy="360.0" r="2.7"/><circle cx="516.2" cy="353.0" r="2.7"/><circle cx="518.0" cy="350.0" r="2.7"/><circle cx="522.5" cy="346.0" r="2.7"/><circle cx="507.5" cy="343.1" r="2.7"/><circle cx="516.6" cy="349.7" r="2.7"/><circle cx="512.5" cy="357.2" r="2.7"/><circle cx="521.6" cy="338.1" r="2.7"/><circle cx="525.8" cy="341.4" r="2.7"/><circle cx="523.5" cy="332.3" r="2.7"/><circle cx="530.8" cy="318.8" r="2.7"/><circle cx="534.6" cy="308.7" r="2.7"/><circle cx="536.7" cy="301.4" r="2.7"/><circle cx="532.5" cy="314.4" r="2.7"/><circle cx="529.9" cy="324.0" r="2.7"/><circle cx="527.5" cy="328.0" r="2.7"/><circle cx="519.5" cy="343.0" r="2.7"/><circle cx="514.5" cy="347.0" r="2.7"/><circle cx="546.3" cy="109.4" r="2.7"/><circle cx="543.6" cy="220.0" r="2.7"/><circle cx="543.8" cy="225.0" r="2.7"/><circle cx="543.5" cy="227.0" r="2.7"/><circle cx="550.3" cy="233.0" r="2.7"/><circle cx="542.2" cy="255.8" r="2.7"/><circle cx="551.1" cy="251.5" r="2.7"/><circle cx="551.1" cy="257.2" r="2.7"/><circle cx="551.1" cy="262.5" r="2.7"/><circle cx="554.0" cy="292.5" r="2.7"/><circle cx="561.7" cy="328.9" r="2.7"/><circle cx="569.9" cy="333.7" r="2.7"/><circle cx="565.1" cy="343.2" r="2.7"/><circle cx="571.3" cy="348.7" r="2.7"/><circle cx="574.0" cy="352.8" r="2.7"/><circle cx="577.4" cy="360.3" r="2.7"/></g>
<g clip-path="url(#c)"><polyline points="87.50,353.95 88.50,353.95 89.50,353.95 90.50,353.95 91.50,353.95 92.50,353.95 93.50,353.95 94.50,353.95 95.50,353.95 96.50,353.95 97.50,353.95 98.50,353.95 99.50,353.95 100.50,353.95 101.50,353.95 102.50,353.95 103.50,353.95 104.50,353.95 105.50,353.95 106.50,353.95 107.50,353.95 108.50,353.95 109.50,353.95 110.50,353.95 111.50,353.95 112.50,353.95 113.50,353.95 114.50,353.95 115.50,353.95 116.50,353.95 117.50,353.95 118.50,353.95 119.50,353.95 120.50,353.95 121.50,353.95 122.50,353.95 123.50,353.95 124.50,353.95 125.50,353.95 126.50,353.95 127.50,353.95 128.50,353.95 129.50,353.95 130.50,353.95 131.50,353.95 132.50,353.95 133.50,353.95 134.50,353.95 135.50,353.95 136.50,353.95 137.50,353.95 138.50,353.95 139.50,353.95 140.50,353.95 141.50,353.95 142.50,353.95 143.50,353.95 144.50,353.95 145.50,353.95 146.50,353.95 147.50,353.95 148.50,353.95 149.50,353.95 150.50,353.95 151.50,353.95 152.50,353.95 153.50,353.95 154.50,353.95 155.50,353.95 156.50,353.95 157.50,353.94 158.50,353.94 159.50,353.94 160.50,353.94 161.50,353.94 162.50,353.94 163.50,353.94 164.50,353.94 165.50,353.94 166.50,353.94 167.50,353.94 168.50,353.94 169.50,353.94 170.50,353.94 171.50,353.94 172.50,353.94 173.50,353.94 174.50,353.94 175.50,353.94 176.50,353.94 177.50,353.94 178.50,353.94 179.50,353.94 180.50,353.94 181.50,353.94 182.50,353.94 183.50,353.94 184.50,353.94 185.50,353.94 186.50,353.94 187.50,353.94 188.50,353.94 189.50,353.94 190.50,353.94 191.50,353.94 192.50,353.94 193.50,353.94 194.50,353.94 195.50,353.94 196.50,353.94 197.50,353.94 198.50,353.94 199.50,353.94 200.50,353.94 201.50,353.94 202.50,353.94 203.50,353.94 204.50,353.94 205.50,353.94 206.50,353.94 207.50,353.94 208.50,353.94 209.50,353.94 210.50,353.94 211.50,353.94 212.50,353.94 213.50,353.94 214.50,353.94 215.50,353.94 216.50,353.94 217.50,353.94 218.50,353.94 219.50,353.94 220.50,353.94 221.50,353.94 222.50,353.94 223.50,353.94 224.50,353.94 225.50,353.94 226.50,353.94 227.50,353.94 228.50,353.94 229.50,353.94 230.50,353.94 231.50,353.94 232.50,353.94 233.50,353.94 234.50,353.94 235.50,353.94 236.50,353.94 237.50,353.94 238.50,353.94 239.50,353.94 240.50,353.94 241.50,353.94 242.50,353.94 243.50,353.94 244.50,353.94 245.50,353.94 246.50,353.94 247.50,353.94 248.50,353.94 249.50,353.94 250.50,353.94 251.50,353.94 252.50,353.94 253.50,353.94 254.50,353.94 255.50,353.94 256.50,353.94 257.50,353.94 258.50,353.94 259.50,353.94 260.50,353.94 261.50,353.94 262.50,353.94 263.50,353.94 264.50,353.94 265.50,353.94 266.50,353.94 267.50,353.94 268.50,353.94 269.50,353.94 270.50,353.94 271.50,353.94 272.50,353.94 273.50,353.94 274.50,353.94 275.50,353.94 276.50,353.94 277.50,353.94 278.50,353.94 279.50,353.94 280.50,353.94 281.50,353.94 282.50,353.94 283.50,353.94 284.50,353.94 285.50,353.94 286.50,353.94 287.50,353.94 288.50,353.94 289.50,353.94 290.50,353.94 291.50,353.94 292.50,353.94 293.50,353.94 294.50,353.93 295.50,353.93 296.50,353.93 297.50,353.93 298.50,353.93 299.50,353.93 300.50,353.93 301.50,353.93 302.50,353.93 303.50,353.93 304.50,353.93 305.50,353.93 306.50,353.93 307.50,353.93 308.50,353.93 309.50,353.93 310.50,353.93 311.50,353.93 312.50,353.93 313.50,353.93 314.50,353.93 315.50,353.93 316.50,353.93 317.50,353.93 318.50,353.93 319.50,353.93 320.50,353.93 321.50,353.93 322.50,353.93 323.50,353.93 324.50,353.93 325.50,353.93 326.50,353.93 327.50,353.93 328.50,353.93 329.50,353.93 330.50,353.93 331.50,353.92 332.50,353.92 333.50,353.92 334.50,353.92 335.50,353.92 336.50,353.92 337.50,353.92 338.50,353.92 339.50,353.92 340.50,353.92 341.50,353.92 342.50,353.92 343.50,353.92 344.50,353.92 345.50,353.92 346.50,353.92 347.50,353.92 348.50,353.92 349.50,353.92 350.50,353.92 351.50,353.91 352.50,353.91 353.50,353.91 354.50,353.91 355.50,353.91 356.50,353.91 357.50,353.91 358.50,353.91 359.50,353.91 360.50,353.91 361.50,353.91 362.50,353.91 363.50,353.91 364.50,353.90 365.50,353.90 366.50,353.90 367.50,353.90 368.50,353.90 369.50,353.90 370.50,353.90 371.50,353.90 372.50,353.90 373.50,353.90 374.50,353.89 375.50,353.89 376.50,353.89 377.50,353.89 378.50,353.89 379.50,353.89 380.50,353.89 381.50,353.89 382.50,353.88 383.50,353.88 384.50,353.88 385.50,353.88 386.50,353.88 387.50,353.88 388.50,353.88 389.50,353.87 390.50,353.87 391.50,353.87 392.50,353.87 393.50,353.87 394.50,353.86 395.50,353.86 396.50,353.86 397.50,353.86 398.50,353.86 399.50,353.85 400.50,353.85 401.50,353.85 402.50,353.85 403.50,353.84 404.50,353.84 405.50,353.84 406.50,353.84 407.50,353.83 408.50,353.83 409.50,353.83 410.50,353.82 411.50,353.82 412.50,353.82 413.50,353.81 414.50,353.81 415.50,353.81 416.50,353.80 417.50,353.80 418.50,353.79 419.50,353.79 420.50,353.79 421.50,353.78 422.50,353.78 423.50,353.77 424.50,353.77 425.50,353.76 426.50,353.75 427.50,353.75 428.50,353.74 429.50,353.74 430.50,353.73 431.50,353.72 432.50,353.72 433.50,353.71 434.50,353.70 435.50,353.70 436.50,353.69 437.50,353.68 438.50,353.67 439.50,353.66 440.50,353.65 441.50,353.64 442.50,353.63 443.50,353.62 444.50,353.61 445.50,353.60 446.50,353.59 447.50,353.58 448.50,353.56 449.50,353.55 450.50,353.54 451.50,353.52 452.50,353.51 453.50,353.49 454.50,353.47 455.50,353.46 456.50,353.44 457.50,353.42 458.50,353.40 459.50,353.38 460.50,353.36 461.50,353.34 462.50,353.31 463.50,353.29 464.50,353.26 465.50,353.24 466.50,353.21 467.50,353.18 468.50,353.15 469.50,353.12 470.50,353.08 471.50,353.05 472.50,353.01 473.50,352.97 474.50,352.93 475.50,352.89 476.50,352.84 477.50,352.79 478.50,352.74 479.50,352.69 480.50,352.64 481.50,352.58 482.50,352.51 483.50,352.45 484.50,352.38 485.50,352.31 486.50,352.23 487.50,352.15 488.50,352.06 489.50,351.97 490.50,351.88 491.50,351.78 492.50,351.67 493.50,351.56 494.50,351.43 495.50,351.31 496.50,351.17 497.50,351.03 498.50,350.87 499.50,350.71 500.50,350.54 501.50,350.35 502.50,350.15 503.50,349.94 504.50,349.72 505.50,349.48 506.50,349.23 507.50,348.95 508.50,348.66 509.50,348.35 510.50,348.01 511.50,347.65 512.50,347.26 513.50,346.84 514.50,346.39 515.50,345.91 516.50,345.38 517.50,344.82 518.50,344.20 519.50,343.54 520.50,342.82 521.50,342.03 522.50,341.17 523.50,340.23 524.50,339.21 525.50,338.08 526.50,336.84 527.50,335.47 528.50,333.95 529.50,332.26 530.50,330.37 531.50,328.26 532.50,325.87 533.50,323.17 534.50,320.08 535.50,316.54 536.50,312.42 537.50,307.59 538.50,301.86 539.25,296.81 539.30,296.45 539.35,296.08 539.40,295.71 539.45,295.34 539.50,294.96 539.55,294.58 539.60,294.19 539.65,293.80 539.70,293.40 539.75,293.01 539.80,292.60 539.85,292.20 539.90,291.78 539.95,291.37 540.00,290.95 540.05,290.52 540.10,290.09 540.15,289.66 540.20,289.22 540.25,288.78 540.30,288.33 540.35,287.88 540.40,287.42 540.45,286.95 540.50,286.48 540.55,286.01 540.60,285.53 540.65,285.04 540.70,284.55 540.75,284.06 540.80,283.55 540.85,283.04 540.90,282.53 540.95,282.01 541.00,281.48 541.05,280.95 541.10,280.41 541.15,279.86 541.20,279.31 541.25,278.75 541.30,278.18 541.35,277.60 541.40,277.02 541.45,276.43 541.50,275.83 541.55,275.23 541.60,274.62 541.65,274.00 541.70,273.37 541.75,272.73 541.80,272.08 541.85,271.43 541.90,270.76 541.95,270.09 542.00,269.41 542.05,268.72 542.10,268.01 542.15,267.30 542.20,266.58 542.25,265.85 542.30,265.11 542.35,264.35 542.40,263.59 542.45,262.81 542.50,262.02 542.55,261.22 542.60,260.41 542.65,259.58 542.70,258.75 542.75,257.90 542.80,257.03 542.85,256.15 542.90,255.26 542.95,254.36 543.00,253.43 543.05,252.50 543.10,251.54 543.15,250.58 543.20,249.59 543.25,248.59 543.30,247.57 543.35,246.53 543.40,245.47 543.45,244.40 543.50,243.30 543.55,242.19 543.60,241.05 543.65,239.90 543.70,238.72 543.75,237.52 543.80,236.29 543.85,235.04 543.90,233.77 543.95,232.47 544.00,231.14 544.05,229.79 544.10,228.41 544.15,227.00 544.20,225.56 544.25,224.08 544.30,222.58 544.35,221.04 544.40,219.46 544.45,217.85 544.50,216.20 544.55,214.52 544.60,212.79 544.65,211.02 544.70,209.20 544.75,207.34 544.80,205.43 544.85,203.47 544.90,201.46 544.95,199.40 545.00,197.27 545.05,195.09 545.10,192.85 545.15,190.54 545.20,188.16 545.25,185.70 545.30,183.17 545.35,180.56 545.40,177.87 545.45,175.08 545.50,172.20 545.55,169.22 545.60,166.13 545.65,162.93 545.70,159.61 545.75,156.15 545.80,152.56 545.85,148.82 545.90,144.92 545.95,140.85 546.00,136.59 546.05,132.13 546.10,127.45 546.15,122.53 546.20,117.36 546.25,111.89 546.30,106.11 546.35,99.97 546.40,93.45 546.45,86.48 546.50,79.01 546.55,70.98 546.60,62.29 546.65,52.85 546.70,42.51 546.75,31.11 546.80,18.43 546.85,4.15 546.90,-12.15 546.95,-31.10 547.00,-53.66 547.05,-81.47 547.10,-117.58 547.15,-168.83 547.20,-257.10 547.25,-463.43 547.30,-257.10 547.35,-168.83 547.40,-117.58 547.45,-81.47 547.50,-53.66 547.55,-31.10 547.60,-12.15 547.65,4.15 547.70,18.43 547.75,31.11 547.80,42.51 547.85,52.85 547.90,62.29 547.95,70.98 548.00,79.01 548.05,86.48 548.10,93.45 548.15,99.97 548.20,106.11 548.25,111.89 548.30,117.36 548.35,122.53 548.40,127.45 548.45,132.13 548.50,136.59 548.55,140.85 548.60,144.92 548.65,148.82 548.70,152.56 548.75,156.15 548.80,159.61 548.85,162.93 548.90,166.13 548.95,169.22 549.00,172.20 549.05,175.08 549.10,177.87 549.15,180.56 549.20,183.17 549.25,185.70 549.30,188.16 549.35,190.54 549.40,192.85 549.45,195.09 549.50,197.27 549.55,199.40 549.60,201.46 549.65,203.47 549.70,205.43 549.75,207.34 549.80,209.20 549.85,211.02 549.90,212.79 549.95,214.52 550.00,216.20 550.05,217.85 550.10,219.46 550.15,221.04 550.20,222.58 550.25,224.08 550.30,225.56 550.35,227.00 550.40,228.41 550.45,229.79 550.50,231.14 550.55,232.47 550.60,233.77 550.65,235.04 550.70,236.29 550.75,237.52 550.80,238.72 550.85,239.90 550.90,241.05 550.95,242.19 551.00,243.30 551.05,244.40 551.10,245.47 551.15,246.53 551.20,247.57 551.25,248.59 551.30,249.59 551.35,250.58 551.40,251.54 551.45,252.50 551.50,253.43 551.55,254.36 551.60,255.26 551.65,256.15 551.70,257.03 551.75,257.90 551.80,258.75 551.85,259.58 551.90,260.41 551.95,261.22 552.00,262.02 552.05,262.81 552.10,263.59 552.15,264.35 552.20,265.11 552.25,265.85 552.30,266.58 552.35,267.30 552.40,268.01 552.45,268.72 552.50,269.41 552.55,270.09 552.60,270.76 552.65,271.43 552.70,272.08 552.75,272.73 552.80,273.37 552.85,274.00 552.90,274.62 552.95,275.23 553.00,275.83 553.05,276.43 553.10,277.02 553.15,277.60 553.20,278.18 553.25,278.75 553.30,279.31 553.35,279.86 553.40,280.41 553.45,280.95 553.50,281.48 553.55,282.01 553.60,282.53 553.65,283.04 553.70,283.55 553.75,284.06 553.80,284.55 553.85,285.04 553.90,285.53 553.95,286.01 554.00,286.48 554.05,286.95 554.10,287.42 554.15,287.88 554.20,288.33 554.25,288.78 554.30,289.22 554.35,289.66 554.40,290.09 554.45,290.52 554.50,290.95 554.55,291.37 554.60,291.78 554.65,292.20 554.70,292.60 554.75,293.01 554.80,293.40 554.85,293.80 554.90,294.19 554.95,294.58 555.00,294.96 555.05,295.34 555.10,295.71 555.15,296.08 555.20,296.45 555.25,296.81 556.00,301.86 557.00,307.59 558.00,312.42 559.00,316.54 560.00,320.08 561.00,323.17 562.00,325.87 563.00,328.26 564.00,330.37 565.00,332.26 566.00,333.95 567.00,335.47 568.00,336.84 569.00,338.08 570.00,339.21 571.00,340.23 572.00,341.17 573.00,342.03 574.00,342.82 575.00,343.54 576.00,344.20 577.00,344.82 578.00,345.38 579.00,345.91 580.00,346.39 581.00,346.84 582.00,347.26 583.00,347.65 584.00,348.01 585.00,348.35 586.00,348.66 587.00,348.95 588.00,349.23 589.00,349.48 590.00,349.72 591.00,349.94 592.00,350.15 593.00,350.35 594.00,350.54 595.00,350.71 596.00,350.87 597.00,351.03 598.00,351.17 599.00,351.31 600.00,351.43 601.00,351.56 602.00,351.67 603.00,351.78 604.00,351.88 605.00,351.97 606.00,352.06 607.00,352.15 608.00,352.23 609.00,352.31 610.00,352.38 611.00,352.45 612.00,352.51 613.00,352.58 614.00,352.64 615.00,352.69 616.00,352.74 617.00,352.79 618.00,352.84 619.00,352.89 620.00,352.93 621.00,352.97 622.00,353.01 623.00,353.05 624.00,353.08 625.00,353.12 626.00,353.15 627.00,353.18 628.00,353.21 629.00,353.24 630.00,353.26 631.00,353.29 632.00,353.31 633.00,353.34 634.00,353.36 635.00,353.38 636.00,353.40 637.00,353.42 638.00,353.44 639.00,353.46 640.00,353.47 641.00,353.49 642.00,353.51 643.00,353.52 644.00,353.54 645.00,353.55 646.00,353.56 647.00,353.58 648.00,353.59 649.00,353.60 650.00,353.61 651.00,353.62 652.00,353.63 653.00,353.64 654.00,353.65 655.00,353.66 656.00,353.67 657.00,353.68 658.00,353.69 659.00,353.70 660.00,353.70 661.00,353.71 662.00,353.72 663.00,353.72 664.00,353.73 665.00,353.74 666.00,353.74 667.00,353.75 668.00,353.75 669.00,353.76 670.00,353.77 671.00,353.77 672.00,353.78 673.00,353.78 674.00,353.79 675.00,353.79 676.00,353.79 677.00,353.80 678.00,353.80 679.00,353.81 680.00,353.81 681.00,353.81 682.00,353.82 683.00,353.82 684.00,353.82 685.00,353.83 686.00,353.83 687.00,353.83 688.00,353.84 689.00,353.84 690.00,353.84 691.00,353.84 692.00,353.85 693.00,353.85 694.00,353.85 695.00,353.85 696.00,353.86 697.00,353.86 698.00,353.86 699.00,353.86 700.00,353.86 701.00,353.87 702.00,353.87 703.00,353.87 704.00,353.87 705.00,353.87 706.00,353.88 707.00,353.88 708.00,353.88 709.00,353.88 710.00,353.88 711.00,353.88 712.00,353.88 713.00,353.89 714.00,353.89 715.00,353.89 716.00,353.89 717.00,353.89 718.00,353.89 719.00,353.89 720.00,353.89 721.00,353.90 722.00,353.90 723.00,353.90 724.00,353.90 725.00,353.90 726.00,353.90 727.00,353.90 728.00,353.90 729.00,353.90 730.00,353.90 731.00,353.91 732.00,353.91 733.00,353.91 734.00,353.91 735.00,353.91 736.00,353.91 737.00,353.91 738.00,353.91 739.00,353.91 740.00,353.91 741.00,353.91 742.00,353.91 743.00,353.91 744.00,353.92 745.00,353.92 746.00,353.92 747.00,353.92 748.00,353.92 749.00,353.92 750.00,353.92 751.00,353.92 752.00,353.92 753.00,353.92 754.00,353.92 755.00,353.92 756.00,353.92 757.00,353.92 758.00,353.92 759.00,353.92 760.00,353.92 761.00,353.92 762.00,353.92 763.00,353.92 764.00,353.93 765.00,353.93 766.00,353.93 767.00,353.93 768.00,353.93 769.00,353.93 770.00,353.93 771.00,353.93 772.00,353.93 773.00,353.93 774.00,353.93 775.00,353.93 776.00,353.93 777.00,353.93 778.00,353.93 779.00,353.93 780.00,353.93 781.00,353.93 782.00,353.93 783.00,353.93 784.00,353.93 785.00,353.93 786.00,353.93 787.00,353.93 788.00,353.93 789.00,353.93 790.00,353.93 791.00,353.93 792.00,353.93 793.00,353.93 794.00,353.93 795.00,353.93 796.00,353.93 797.00,353.93 798.00,353.93 799.00,353.93 800.00,353.93 801.00,353.94 802.00,353.94 803.00,353.94 804.00,353.94 805.00,353.94 806.00,353.94 807.00,353.94 808.00,353.94 809.00,353.94 810.00,353.94 811.00,353.94 812.00,353.94 813.00,353.94 814.00,353.94 815.00,353.94 816.00,353.94 817.00,353.94 818.00,353.94 819.00,353.94 820.00,353.94 821.00,353.94 822.00,353.94 823.00,353.94 824.00,353.94 825.00,353.94 826.00,353.94 827.00,353.94 828.00,353.94 829.00,353.94 830.00,353.94 831.00,353.94 832.00,353.94 833.00,353.94 834.00,353.94 835.00,353.94 836.00,353.94 837.00,353.94 838.00,353.94 839.00,353.94 840.00,353.94 841.00,353.94 842.00,353.94 843.00,353.94 844.00,353.94 845.00,353.94 846.00,353.94 847.00,353.94 848.00,353.94 849.00,353.94 850.00,353.94 851.00,353.94 852.00,353.94 853.00,353.94 854.00,353.94 855.00,353.94 856.00,353.94 857.00,353.94 858.00,353.94 859.00,353.94 860.00,353.94 861.00,353.94 862.00,353.94 863.00,353.94 864.00,353.94 865.00,353.94 866.00,353.94 867.00,353.94 868.00,353.94 869.00,353.94 870.00,353.94 871.00,353.94 872.00,353.94 873.00,353.94 874.00,353.94 875.00,353.94 876.00,353.94 877.00,353.94 878.00,353.94 879.00,353.94 880.00,353.94 881.00,353.94 882.00,353.94 883.00,353.94 884.00,353.94 885.00,353.94 886.00,353.94 887.00,353.94 888.00,353.94 889.00,353.94 890.00,353.94 891.00,353.94 892.00,353.94 893.00,353.94 894.00,353.94 895.00,353.94 896.00,353.94 897.00,353.94 898.00,353.94 899.00,353.94 900.00,353.94 901.00,353.94 902.00,353.94 903.00,353.94 904.00,353.94 905.00,353.94 906.00,353.94 907.00,353.94 908.00,353.94 909.00,353.94 910.00,353.94 911.00,353.94 912.00,353.94 913.00,353.94 914.00,353.94 915.00,353.94 916.00,353.94 917.00,353.94 918.00,353.94 919.00,353.94 920.00,353.94 921.00,353.94 922.00,353.94 923.00,353.94 924.00,353.94 925.00,353.94 926.00,353.94 927.00,353.94 928.00,353.94 929.00,353.94 930.00,353.94 931.00,353.94 932.00,353.94 933.00,353.94 934.00,353.94 935.00,353.94 936.00,353.94 937.00,353.94 938.00,353.95 939.00,353.95 940.00,353.95 941.00,353.95 942.00,353.95 943.00,353.95 944.00,353.95 945.00,353.95 946.00,353.95 947.00,353.95 948.00,353.95 949.00,353.95 950.00,353.95 951.00,353.95 952.00,353.95 953.00,353.95 954.00,353.95 955.00,353.95 956.00,353.95 957.00,353.95 958.00,353.95 959.00,353.95 960.00,353.95 961.00,353.95 962.00,353.95 963.00,353.95 964.00,353.95 965.00,353.95 966.00,353.95 967.00,353.95 968.00,353.95 969.00,353.95 970.00,353.95 971.00,353.95 972.00,353.95 973.00,353.95 974.00,353.95 975.00,353.95 976.00,353.95 977.00,353.95 978.00,353.95 979.00,353.95 980.00,353.95 981.00,353.95 982.00,353.95 983.00,353.95 984.00,353.95 985.00,353.95 986.00,353.95 987.00,353.95 988.00,353.95 989.00,353.95 990.00,353.95 991.00,353.95 992.00,353.95 993.00,353.95 994.00,353.95 995.00,353.95 996.00,353.95 997.00,353.95 998.00,353.95 999.00,353.95 1000.00,353.95 1001.00,353.95 1002.00,353.95 1003.00,353.95 1004.00,353.95 1005.00,353.95 1006.00,353.95 1007.00,353.95" fill="none" stroke="#ff00ff" stroke-width="1.2" opacity="0.6"/></g>
<path d="M98.00 62.5v19M98.00 436.5v-19M122.78 62.5v9.5M122.78 436.5v-9.5M147.56 62.5v9.5M147.56 436.5v-9.5M172.34 62.5v9.5M172.34 436.5v-9.5M197.12 62.5v19M197.12 436.5v-19M221.90 62.5v9.5M221.90 436.5v-9.5M246.68 62.5v9.5M246.68 436.5v-9.5M271.46 62.5v9.5M271.46 436.5v-9.5M296.24 62.5v19M296.24 436.5v-19M321.02 62.5v9.5M321.02 436.5v-9.5M345.80 62.5v9.5M345.80 436.5v-9.5M370.58 62.5v9.5M370.58 436.5v-9.5M395.36 62.5v19M395.36 436.5v-19M420.14 62.5v9.5M420.14 436.5v-9.5M444.92 62.5v9.5M444.92 436.5v-9.5M469.70 62.5v9.5M469.70 436.5v-9.5M494.48 62.5v19M494.48 436.5v-19M519.26 62.5v9.5M519.26 436.5v-9.5M544.04 62.5v9.5M544.04 436.5v-9.5M568.82 62.5v9.5M568.82 436.5v-9.5M87.5 63.80h9.5M587.5 63.80h-9.5M87.5 87.50h9.5M587.5 87.50h-9.5M87.5 111.20h19M587.5 111.20h-19M87.5 134.90h9.5M587.5 134.90h-9.5M87.5 158.60h9.5M587.5 158.60h-9.5M87.5 182.30h9.5M587.5 182.30h-9.5M87.5 206.00h9.5M587.5 206.00h-9.5M87.5 229.70h19M587.5 229.70h-19M87.5 253.40h9.5M587.5 253.40h-9.5M87.5 277.10h9.5M587.5 277.10h-9.5M87.5 300.80h9.5M587.5 300.80h-9.5M87.5 324.50h9.5M587.5 324.50h-9.5M87.5 348.20h19M587.5 348.20h-19M87.5 371.90h9.5M587.5 371.90h-9.5M87.5 395.60h9.5M587.5 395.60h-9.5M87.5 419.30h9.5M587.5 419.30h-9.5" stroke="#000" stroke-width="1" fill="none"/>
<rect x="87.5" y="62.5" width="500.0" height="374.0" fill="none" stroke="#000" stroke-width="1.1"/>
<g style="will-change:transform">
<text x="337.5" y="41" font-family="Liberation Serif" fill="#000" stroke="#000" stroke-width="0.5" font-size="20" text-anchor="middle" textLength="197" lengthAdjust="spacingAndGlyphs">OGLE-2025-BLG-1188</text>
<text x="98.00" y="463" font-family="Liberation Serif" fill="#000" stroke="#000" stroke-width="0.5" font-size="20" text-anchor="middle" textLength="50.5" lengthAdjust="spacingAndGlyphs">10000</text>
<text x="197.12" y="463" font-family="Liberation Serif" fill="#000" stroke="#000" stroke-width="0.5" font-size="20" text-anchor="middle" textLength="50.5" lengthAdjust="spacingAndGlyphs">10200</text>
<text x="296.24" y="463" font-family="Liberation Serif" fill="#000" stroke="#000" stroke-width="0.5" font-size="20" text-anchor="middle" textLength="50.5" lengthAdjust="spacingAndGlyphs">10400</text>
<text x="395.36" y="463" font-family="Liberation Serif" fill="#000" stroke="#000" stroke-width="0.5" font-size="20" text-anchor="middle" textLength="50.5" lengthAdjust="spacingAndGlyphs">10600</text>
<text x="494.48" y="463" font-family="Liberation Serif" fill="#000" stroke="#000" stroke-width="0.5" font-size="20" text-anchor="middle" textLength="50.5" lengthAdjust="spacingAndGlyphs">10800</text>
<text x="77.5" y="118.20" font-family="Liberation Serif" fill="#000" stroke="#000" stroke-width="0.5" font-size="20" text-anchor="end" textLength="19.2" lengthAdjust="spacingAndGlyphs">17</text>
<text x="77.5" y="236.70" font-family="Liberation Serif" fill="#000" stroke="#000" stroke-width="0.5" font-size="20" text-anchor="end" textLength="19.2" lengthAdjust="spacingAndGlyphs">18</text>
<text x="77.5" y="355.20" font-family="Liberation Serif" fill="#000" stroke="#000" stroke-width="0.5" font-size="20" text-anchor="end" textLength="19.2" lengthAdjust="spacingAndGlyphs">19</text>
<text x="337" y="492" font-family="Liberation Serif" fill="#000" stroke="#000" stroke-width="0.5" font-size="20" text-anchor="middle" textLength="127" lengthAdjust="spacingAndGlyphs">HJD - 2450000</text>
<text transform="translate(27.5 249.7) rotate(-90)" x="0" y="0" font-family="Liberation Serif" fill="#000" stroke="#000" stroke-width="0.5" font-size="20" text-anchor="middle" textLength="106" lengthAdjust="spacingAndGlyphs">I magnitude</text>
</g>
</svg></body></html>
